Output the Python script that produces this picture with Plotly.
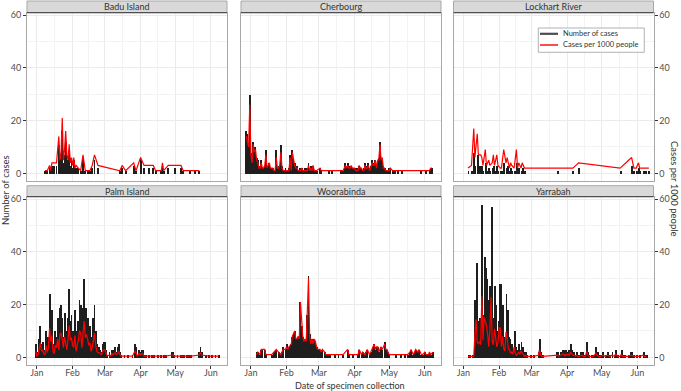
import datetime as dt
import plotly.graph_objects as go

BASE = dt.date(2022, 1, 1)

COMMUNITIES = ["Badu Island", "Cherbourg", "Lockhart River",
               "Palm Island", "Woorabinda", "Yarrabah"]

MONTH_TICKS = ["2022-01-01", "2022-02-01", "2022-03-01",
               "2022-04-01", "2022-05-01", "2022-06-01"]
MONTH_LABELS = ["Jan", "Feb", "Mar", "Apr", "May", "Jun"]
Y_TICKS = [0, 20, 40, 60]
Y_MINOR = [10, 30, 50]

# day offsets from 1 Jan 2022, number of cases, cases per 1000 people
BADU_DAY = [7, 9, 11, 12, 13, 15, 17, 19, 20, 21,
            22, 23, 24, 25, 26, 27, 28, 29, 30, 31,
            32, 33, 34, 36, 38, 40, 42, 44, 46, 48,
            50, 53, 72, 74, 77, 84, 86, 90, 93, 97,
            101, 103, 108, 109, 110, 114, 120, 125, 127, 133,
            137, 141]
BADU_CASES = [1, 1, 2, 1, 3, 3, 3, 11, 4, 6,
              16, 4, 7, 12, 5, 4, 8, 3, 5, 2,
              5, 2, 2, 2, 1, 5, 1, 1, 1, 2,
              5, 2, 1, 2, 1, 3, 1, 5, 2, 2,
              2, 1, 1, 3, 1, 2, 2, 2, 1, 1,
              1, 1]
BADU_RATE = [1, 1, 3, 1, 4, 4, 4, 14, 5, 8,
             21, 5, 9, 16, 7, 5, 11, 4, 6, 3,
             6, 2, 3, 2, 1, 7, 1, 1, 1, 3,
             7, 3, 1, 3, 1, 4, 1, 6, 3, 3,
             3, 1, 1, 4, 1, 3, 3, 3, 1, 1,
             1, 1]

CHER_DAY = [-4, -3, -2, -1, 0, 1, 2, 3, 4, 5,
            6, 7, 8, 9, 10, 11, 12, 13, 14, 15,
            16, 17, 18, 19, 20, 21, 22, 23, 24, 25,
            26, 27, 28, 29, 30, 31, 32, 33, 34, 35,
            36, 37, 38, 39, 40, 41, 42, 43, 44, 45,
            46, 47, 48, 49, 50, 51, 52, 53, 54, 55,
            56, 57, 60, 61, 68, 70, 78, 80, 82, 83,
            84, 85, 86, 87, 88, 89, 90, 91, 92, 93,
            94, 95, 96, 97, 98, 99, 100, 101, 102, 103,
            104, 105, 106, 107, 108, 109, 110, 111, 112, 113,
            114, 115, 116, 117, 118, 119, 120, 121, 123, 125,
            128, 131, 148, 152, 155, 156, 157]
CHER_CASES = [16, 15, 11, 30, 8, 5, 12, 10, 10, 6,
              5, 3, 2, 5, 2, 2, 3, 9, 2, 3,
              4, 2, 2, 2, 1, 1, 9, 2, 3, 3,
              11, 3, 1, 1, 2, 1, 1, 2, 7, 2,
              9, 6, 4, 3, 3, 1, 1, 2, 2, 1,
              1, 2, 1, 2, 4, 2, 3, 1, 3, 1,
              1, 1, 2, 1, 1, 1, 1, 1, 4, 3,
              4, 2, 3, 3, 2, 2, 2, 2, 1, 2,
              3, 2, 2, 1, 2, 4, 3, 2, 4, 2,
              3, 5, 3, 4, 5, 3, 5, 6, 12, 5,
              6, 3, 2, 1, 1, 1, 2, 2, 1, 1,
              1, 1, 1, 1, 1, 2, 2]
CHER_RATE = [14, 12, 10, 26, 7, 4, 11, 8, 9, 5,
             4, 2, 2, 4, 2, 2, 3, 7, 2, 3,
             4, 2, 2, 2, 1, 1, 6, 2, 2, 3,
             8, 2, 1, 1, 1, 1, 1, 1, 6, 1,
             8, 5, 3, 2, 2, 1, 1, 1, 2, 1,
             1, 1, 1, 1, 3, 1, 2, 1, 3, 1,
             1, 1, 2, 1, 1, 1, 1, 1, 3, 2,
             3, 2, 2, 3, 2, 2, 2, 1, 1, 1,
             3, 2, 2, 1, 1, 3, 2, 2, 3, 1,
             2, 4, 3, 3, 5, 2, 5, 5, 11, 5,
             6, 2, 2, 1, 1, 1, 1, 2, 1, 1,
             1, 1, 1, 1, 1, 2, 2]

LOCK_DAY = [4, 7, 9, 10, 12, 13, 14, 15, 16, 17,
            19, 20, 22, 23, 25, 26, 27, 29, 30, 32,
            33, 35, 37, 38, 40, 41, 42, 44, 46, 47,
            48, 50, 51, 53, 82, 95, 100, 136, 146, 148,
            150, 152, 153, 156, 158, 161]
LOCK_CASES = [1, 1, 8, 3, 7, 3, 3, 3, 3, 1,
              4, 1, 2, 1, 2, 3, 1, 3, 1, 1,
              1, 4, 2, 3, 1, 2, 1, 1, 4, 1,
              2, 1, 2, 1, 1, 1, 2, 1, 3, 1,
              1, 2, 1, 1, 1, 1]
LOCK_RATE = [2, 3, 17, 6, 15, 7, 7, 7, 6, 3,
             9, 3, 5, 3, 4, 7, 3, 7, 3, 2,
             2, 9, 4, 6, 2, 4, 3, 2, 9, 2,
             4, 2, 4, 2, 2, 2, 4, 2, 6, 2,
             2, 4, 2, 2, 2, 2]

PALM_DAY = [-1, 0, 1, 2, 3, 4, 5, 6, 7, 8,
            9, 10, 11, 12, 13, 14, 15, 16, 17, 18,
            19, 20, 21, 22, 23, 24, 25, 26, 27, 28,
            29, 30, 31, 32, 33, 34, 35, 36, 37, 38,
            39, 40, 41, 42, 43, 44, 45, 46, 47, 48,
            49, 50, 51, 52, 53, 54, 55, 56, 57, 58,
            59, 60, 61, 63, 64, 65, 66, 67, 68, 69,
            70, 71, 72, 73, 76, 79, 83, 85, 86, 87,
            89, 90, 91, 92, 93, 95, 97, 100, 102, 105,
            108, 110, 112, 117, 118, 119, 122, 125, 126, 127,
            128, 130, 132, 134, 141, 142, 143, 147, 149, 152,
            155, 158]
PALM_CASES = [5, 1, 2, 7, 12, 5, 6, 3, 2, 10,
              4, 8, 24, 13, 18, 5, 3, 10, 8, 15,
              6, 19, 20, 15, 8, 17, 10, 6, 15, 26,
              14, 16, 10, 8, 18, 5, 10, 14, 22, 20,
              8, 19, 30, 16, 19, 15, 10, 12, 5, 8,
              15, 20, 10, 5, 4, 4, 3, 2, 5, 6,
              6, 3, 1, 2, 1, 3, 2, 3, 4, 2,
              4, 5, 2, 1, 1, 1, 1, 5, 4, 1,
              3, 2, 3, 3, 1, 1, 1, 1, 1, 1,
              1, 1, 1, 2, 2, 1, 1, 1, 1, 1,
              1, 1, 1, 1, 2, 4, 2, 1, 1, 1,
              1, 1]
PALM_RATE = [2.3, 0.5, 0.9, 3.2, 5.5, 2.3, 2.8, 1.4, 0.9, 4.6,
             1.8, 3.7, 11.0, 6.0, 8.3, 2.3, 1.4, 4.6, 3.7, 6.9,
             2.8, 8.7, 9.2, 6.9, 3.7, 7.8, 4.6, 2.8, 6.9, 12.0,
             6.4, 7.4, 4.6, 3.7, 8.3, 2.3, 4.6, 6.4, 10.1, 9.2,
             3.7, 8.7, 13.8, 7.4, 8.7, 6.9, 4.6, 5.5, 2.3, 3.7,
             6.9, 9.2, 4.6, 2.3, 1.8, 1.8, 1.4, 0.9, 2.3, 2.8,
             2.8, 1.4, 0.5, 0.9, 0.5, 1.4, 0.9, 1.4, 1.8, 0.9,
             1.8, 2.3, 0.9, 0.5, 0.5, 0.5, 0.5, 2.3, 1.8, 0.5,
             1.4, 0.9, 1.4, 1.4, 0.5, 0.5, 0.5, 0.5, 0.5, 0.5,
             0.5, 0.5, 0.5, 0.9, 0.9, 0.5, 0.5, 0.5, 0.5, 0.5,
             0.5, 0.5, 0.5, 0.5, 0.9, 1.8, 0.9, 0.5, 0.5, 0.5,
             0.5, 0.5]

WOOR_DAY = [5, 6, 8, 9, 10, 12, 13, 18, 20, 22,
            24, 26, 27, 28, 30, 31, 32, 33, 35, 36,
            37, 38, 39, 40, 41, 42, 43, 44, 45, 46,
            47, 48, 49, 50, 51, 52, 53, 54, 55, 56,
            57, 58, 60, 61, 62, 64, 65, 67, 69, 73,
            76, 80, 84, 85, 89, 93, 94, 96, 97, 99,
            100, 101, 103, 104, 106, 107, 108, 109, 110, 111,
            113, 114, 116, 117, 118, 119, 120, 126, 130, 134,
            136, 138, 139, 141, 142, 143, 145, 146, 148, 149,
            151, 152, 154, 155, 156, 158]
WOOR_CASES = [2, 2, 1, 3, 3, 3, 1, 1, 2, 3,
              2, 1, 2, 4, 3, 5, 3, 4, 5, 8,
              9, 10, 7, 7, 8, 7, 21, 12, 8, 6,
              7, 6, 16, 31, 9, 5, 7, 5, 7, 6,
              4, 3, 3, 2, 3, 2, 1, 1, 1, 1,
              1, 1, 3, 1, 1, 1, 3, 1, 2, 1,
              2, 3, 1, 2, 4, 5, 3, 4, 4, 2,
              4, 3, 6, 3, 3, 2, 1, 1, 1, 1,
              1, 2, 3, 1, 2, 3, 2, 3, 1, 1,
              2, 1, 1, 2, 1, 2]
WOOR_RATE = [1, 2, 1, 3, 3, 3, 1, 1, 2, 3,
             2, 1, 2, 3, 3, 4, 3, 4, 5, 8,
             9, 10, 7, 7, 8, 7, 21, 12, 8, 6,
             7, 6, 16, 30, 8, 5, 7, 5, 7, 6,
             4, 3, 3, 2, 3, 2, 1, 1, 1, 1,
             1, 1, 3, 1, 1, 1, 3, 1, 2, 1,
             2, 3, 1, 2, 4, 5, 3, 4, 4, 2,
             4, 3, 5, 3, 3, 2, 1, 1, 1, 1,
             1, 2, 3, 1, 2, 3, 2, 3, 1, 1,
             2, 1, 1, 2, 1, 2]

YARR_DAY = [4, 5, 8, 9, 10, 11, 12, 13, 14, 15,
            16, 17, 18, 19, 20, 21, 22, 23, 24, 25,
            26, 27, 28, 29, 30, 31, 32, 33, 34, 35,
            36, 37, 38, 39, 40, 41, 42, 43, 44, 45,
            46, 47, 48, 49, 50, 51, 52, 53, 54, 55,
            58, 61, 65, 66, 67, 68, 69, 81, 82, 83,
            84, 85, 86, 87, 88, 89, 90, 91, 92, 93,
            94, 95, 96, 97, 98, 99, 100, 102, 103, 104,
            106, 107, 108, 109, 111, 113, 115, 116, 117, 119,
            121, 123, 125, 127, 129, 131, 132, 134, 136, 137,
            138, 140, 143, 145, 146, 148, 150, 153, 156, 157,
            159]
YARR_CASES = [1, 1, 1, 1, 22, 36, 14, 13, 15, 12,
              58, 16, 38, 34, 30, 22, 10, 27, 57, 15,
              12, 27, 20, 10, 14, 28, 28, 10, 20, 8,
              6, 24, 18, 8, 7, 4, 5, 3, 10, 4,
              2, 3, 5, 3, 6, 4, 2, 1, 2, 1,
              1, 1, 2, 7, 2, 1, 1, 2, 2, 1,
              2, 2, 3, 3, 1, 3, 2, 3, 2, 5,
              3, 2, 2, 1, 2, 1, 1, 2, 2, 1,
              1, 6, 2, 1, 1, 1, 4, 2, 1, 1,
              2, 1, 2, 1, 2, 1, 3, 1, 1, 3,
              1, 1, 1, 2, 2, 1, 1, 1, 2, 1,
              1]
YARR_RATE = [0.4, 0.4, 0.4, 0.4, 8.8, 14.4, 5.6, 5.2, 6.0, 4.8,
             23.2, 6.4, 15.2, 13.6, 12.0, 8.8, 4.0, 10.8, 22.8, 6.0,
             4.8, 10.8, 8.0, 4.0, 5.6, 11.2, 11.2, 4.0, 8.0, 3.2,
             2.4, 9.6, 7.2, 3.2, 2.8, 1.6, 2.0, 1.2, 4.0, 1.6,
             0.8, 1.2, 2.0, 1.2, 2.4, 1.6, 0.8, 0.4, 0.8, 0.4,
             0.4, 0.4, 0.8, 2.8, 0.8, 0.4, 0.4, 0.8, 0.8, 0.4,
             0.8, 0.8, 1.2, 1.2, 0.4, 1.2, 0.8, 1.2, 0.8, 2.0,
             1.2, 0.8, 0.8, 0.4, 0.8, 0.4, 0.4, 0.8, 0.8, 0.4,
             0.4, 2.4, 0.8, 0.4, 0.4, 0.4, 1.6, 0.8, 0.4, 0.4,
             0.8, 0.4, 0.8, 0.4, 0.8, 0.4, 1.2, 0.4, 0.4, 1.2,
             0.4, 0.4, 0.4, 0.8, 0.8, 0.4, 0.4, 0.4, 0.8, 0.4,
             0.4]

SERIES = [
    (BADU_DAY, BADU_CASES, BADU_RATE),
    (CHER_DAY, CHER_CASES, CHER_RATE),
    (LOCK_DAY, LOCK_CASES, LOCK_RATE),
    (PALM_DAY, PALM_CASES, PALM_RATE),
    (WOOR_DAY, WOOR_CASES, WOOR_RATE),
    (YARR_DAY, YARR_CASES, YARR_RATE),
]

# ---------------- layout geometry (pixels) ----------------
W, H = 681, 391
COL_PX = [(27, 227), (241, 441), (453.5, 653.5)]
ROW_PX = [(12.7, 181), (196.7, 365)]
STRIP_PX = [(1, 12.7), (185.7, 196.7)]
X_LEFT_DAYS, X_RIGHT_DAYS = -8.6, 165.0
Y_RANGE = [-2.9, 60.9]

FONT = "Lato, 'Open Sans', sans-serif"
TICK_COLOR = "#4d4d4d"
TEXT_COLOR = "#333333"
GRID = "#ebebeb"
GRID_MINOR = "#f3f3f3"
BORDER = "#a8a8a8"


def to_date(d):
    return (BASE + dt.timedelta(days=d)).isoformat()


def px_x(v):
    return v / W


def px_y(v):
    return 1 - v / H


x_range = [(dt.datetime(2022, 1, 1) + dt.timedelta(days=X_LEFT_DAYS)).isoformat(),
           (dt.datetime(2022, 1, 1) + dt.timedelta(days=X_RIGHT_DAYS)).isoformat()]

# minor x grid at midpoints between month breaks
month_dt = [dt.datetime.fromisoformat(m) for m in MONTH_TICKS]
minor_x = [(a + (b - a) / 2).isoformat() for a, b in zip(month_dt[:-1], month_dt[1:])]

fig = go.Figure()
BAR_WIDTH_MS = 0.8 * 86400000

for i, (days, cases, rate) in enumerate(SERIES):
    xa = "x" if i == 0 else f"x{i + 1}"
    ya = "y" if i == 0 else f"y{i + 1}"
    dates = [to_date(d) for d in days]
    fig.add_trace(go.Bar(x=dates, y=cases, width=BAR_WIDTH_MS,
                         marker=dict(color="#1e1e1e", line=dict(width=0)),
                         xaxis=xa, yaxis=ya, showlegend=False,
                         name="Number of cases"))
    fig.add_trace(go.Scatter(x=dates, y=rate, mode="lines",
                             line=dict(color="#ff0000", width=1.2),
                             xaxis=xa, yaxis=ya, showlegend=False,
                             name="Cases per 1000 people"))

layout = dict(width=W, height=H, margin=dict(l=0, r=0, t=0, b=0, autoexpand=False),
              autosize=False, paper_bgcolor="white", plot_bgcolor="white",
              bargap=0, barmode="overlay", showlegend=False,
              font=dict(family=FONT, color=TEXT_COLOR))

shapes = []
annotations = []

for i in range(6):
    r, c = divmod(i, 3)
    xname = "xaxis" if i == 0 else f"xaxis{i + 1}"
    yname = "yaxis" if i == 0 else f"yaxis{i + 1}"
    x0, x1 = COL_PX[c]
    y0, y1 = ROW_PX[r]
    bottom = r == 1
    layout[xname] = dict(
        domain=[px_x(x0), px_x(x1)], anchor="y" if i == 0 else f"y{i + 1}",
        type="date", range=x_range, automargin=False,
        tickmode="array", tickvals=MONTH_TICKS, ticktext=MONTH_LABELS,
        showticklabels=bottom, ticks="outside" if bottom else "",
        ticklen=3, tickwidth=1, tickcolor="#333333", ticklabelstandoff=-4,
        tickfont=dict(size=9, color=TICK_COLOR, family=FONT),
        showgrid=True, gridcolor=GRID, gridwidth=1,
        minor=dict(tickmode="array", tickvals=minor_x, showgrid=True,
                   gridcolor=GRID_MINOR, gridwidth=0.6),
        showline=True, mirror=True, linecolor=BORDER, linewidth=1,
        zeroline=False, fixedrange=True,
    )
    side = "left" if c == 0 else "right"
    show_y = c != 1
    layout[yname] = dict(
        domain=[px_y(y1), px_y(y0)], anchor="x" if i == 0 else f"x{i + 1}",
        range=Y_RANGE, side=side, automargin=False,
        tickmode="array", tickvals=Y_TICKS,
        showticklabels=show_y, ticks="outside" if show_y else "",
        ticklen=3, tickwidth=1, tickcolor="#333333",
        tickfont=dict(size=9, color=TICK_COLOR, family=FONT),
        showgrid=True, gridcolor=GRID, gridwidth=1,
        minor=dict(tickmode="array", tickvals=Y_MINOR, showgrid=True,
                   gridcolor=GRID_MINOR, gridwidth=0.6),
        showline=True, mirror=True, linecolor=BORDER, linewidth=1,
        zeroline=False, fixedrange=True,
    )
    # facet strip
    s0, s1 = STRIP_PX[r]
    shapes.append(dict(type="rect", xref="paper", yref="paper",
                       x0=px_x(x0), x1=px_x(x1), y0=px_y(s1), y1=px_y(s0),
                       fillcolor="#d9d9d9", line=dict(color=BORDER, width=1),
                       layer="above"))
    shapes.append(dict(type="line", xref="paper", yref="paper",
                       x0=px_x(x0), x1=px_x(x1), y0=px_y(s1), y1=px_y(s1),
                       line=dict(color="#3a3a3a", width=1), layer="above"))
    annotations.append(dict(text=COMMUNITIES[i], xref="paper", yref="paper",
                            x=px_x((x0 + x1) / 2), y=px_y((s0 + s1) / 2),
                            xanchor="center", yanchor="middle", showarrow=False,
                            font=dict(size=9, color=TEXT_COLOR, family=FONT)))

# manual legend inside the Lockhart River panel
LX0, LX1, LY0, LY1 = 538.3, 644.3, 28.0, 52.3
shapes.append(dict(type="rect", xref="paper", yref="paper",
                   x0=px_x(LX0), x1=px_x(LX1), y0=px_y(LY1), y1=px_y(LY0),
                   fillcolor="white", line=dict(color="#a0a0a0", width=0.8),
                   layer="above"))
legend_items = [("Number of cases", "#4d4d4d", 2.2, 33.8),
                ("Cases per 1000 people", "#ff0000", 1.4, 45.0)]
for label, col, lw, yy in legend_items:
    shapes.append(dict(type="line", xref="paper", yref="paper",
                       x0=px_x(540), x1=px_x(558), y0=px_y(yy), y1=px_y(yy),
                       line=dict(color=col, width=lw), layer="above"))
    annotations.append(dict(text=label, xref="paper", yref="paper",
                            x=px_x(561), y=px_y(yy), xanchor="left",
                            yanchor="middle", showarrow=False,
                            font=dict(size=7.5, color=TEXT_COLOR, family=FONT)))

# axis titles
annotations.append(dict(text="Number of cases", xref="paper", yref="paper",
                        x=px_x(6), y=px_y(190), textangle=-90,
                        xanchor="center", yanchor="middle", showarrow=False,
                        font=dict(size=9.5, color=TEXT_COLOR, family=FONT)))
annotations.append(dict(text="Cases per 1000 people", xref="paper", yref="paper",
                        x=px_x(675), y=px_y(189), textangle=90,
                        xanchor="center", yanchor="middle", showarrow=False,
                        font=dict(size=9.5, color=TEXT_COLOR, family=FONT)))
annotations.append(dict(text="Date of specimen collection", xref="paper",
                        yref="paper", x=px_x(350), y=px_y(385),
                        xanchor="center", yanchor="middle", showarrow=False,
                        font=dict(size=9, color=TEXT_COLOR, family=FONT)))

layout["shapes"] = shapes
layout["annotations"] = annotations
fig.update_layout(**layout)

fig.write_html("out.html", config={"displayModeBar": False},
               post_script="document.body.style.margin='0';"
                           "document.body.style.overflow='hidden';")
